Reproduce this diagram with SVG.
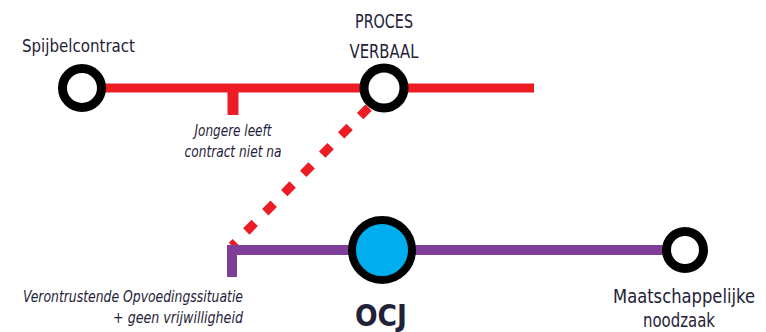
<svg xmlns="http://www.w3.org/2000/svg" width="766" height="332" viewBox="0 0 766 332">
<style>
.lbl{font-family:"DejaVu Sans Condensed","Liberation Sans",sans-serif;font-stretch:condensed;fill:#1f2238;}
.it{font-style:italic;font-size:15px;}
.st{fill:#fff;stroke:#000;stroke-width:9;}
</style>
<rect width="766" height="332" fill="#fff"/>
<g id="connectors" fill="none">
  <line x1="100" y1="88" x2="534" y2="88" stroke="#ed1c24" stroke-width="9"/>
  <line x1="233" y1="88" x2="233" y2="115" stroke="#ed1c24" stroke-width="11"/>
  <line x1="384" y1="92" x2="232" y2="246" stroke="#ed1c24" stroke-width="9" stroke-dasharray="12 15" stroke-dashoffset="5"/>
  <polyline points="232,277 232,250 680,250" stroke="#7f3f98" stroke-width="10"/>
</g>
<g id="spijbelcontract">
  <circle class="st" cx="82" cy="88" r="19.5"/>
  <text class="lbl" x="22" y="52" font-size="18" textLength="113" lengthAdjust="spacingAndGlyphs">Spijbelcontract</text>
</g>
<g id="proces-verbaal">
  <circle class="st" cx="384" cy="88" r="20"/>
  <text class="lbl" x="384" y="28" font-size="19" text-anchor="middle" textLength="58" lengthAdjust="spacingAndGlyphs">PROCES</text>
  <text class="lbl" x="384" y="58" font-size="19" text-anchor="middle" textLength="69" lengthAdjust="spacingAndGlyphs">VERBAAL</text>
</g>
<g id="jongere">
  <text class="lbl it" x="233" y="136" text-anchor="middle" textLength="77" lengthAdjust="spacingAndGlyphs">Jongere leeft</text>
  <text class="lbl it" x="233" y="157" text-anchor="middle" textLength="97" lengthAdjust="spacingAndGlyphs">contract niet na</text>
</g>
<g id="verontrustende">
  <text class="lbl it" x="243" y="302" text-anchor="end" textLength="220" lengthAdjust="spacingAndGlyphs">Verontrustende Opvoedingssituatie</text>
  <text class="lbl it" x="243" y="323" text-anchor="end" textLength="130" lengthAdjust="spacingAndGlyphs">+ geen vrijwilligheid</text>
</g>
<g id="ocj">
  <circle cx="382" cy="250" r="30" fill="#00aeef" stroke="#000" stroke-width="8"/>
  <text class="lbl" x="381" y="326" font-size="30" font-weight="bold" text-anchor="middle" textLength="52" lengthAdjust="spacingAndGlyphs">OCJ</text>
</g>
<g id="maatschappelijke-noodzaak">
  <circle class="st" cx="685" cy="250" r="18.5"/>
  <text class="lbl" x="684" y="303" font-size="19" text-anchor="middle" textLength="142" lengthAdjust="spacingAndGlyphs">Maatschappelijke</text>
  <text class="lbl" x="679" y="327" font-size="19" text-anchor="middle" textLength="72" lengthAdjust="spacingAndGlyphs">noodzaak</text>
</g>
</svg>
